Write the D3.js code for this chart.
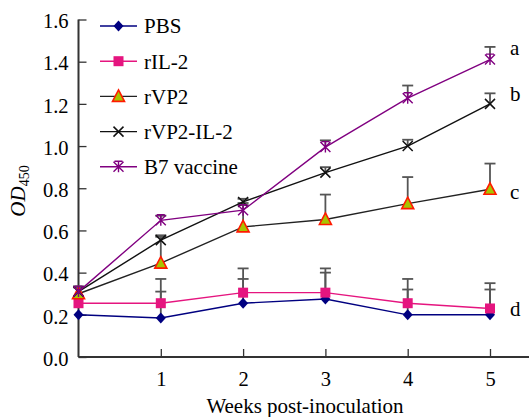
<!DOCTYPE html>
<html>
<head>
<meta charset="utf-8">
<script src="https://cdnjs.cloudflare.com/ajax/libs/d3/7.8.5/d3.min.js"></script>
<style>
  body { margin: 0; background: #fff; }
  svg { display: block; font-family: "Liberation Serif", "Times New Roman", serif; }
</style>
</head>
<body>
<svg width="529" height="417"></svg>
<script>
// weeks post-inoculation
const weeks = [0, 1, 2, 3, 4, 5];

// mean OD450 per group
const pbs     = [0.20, 0.185, 0.255, 0.275, 0.20, 0.20];
const ril2    = [0.255, 0.255, 0.305, 0.305, 0.255, 0.23];
const rvp2    = [0.30, 0.445, 0.617, 0.652, 0.727, 0.795];
const rvp2il2 = [0.31, 0.554, 0.735, 0.874, 1.00, 1.20];
const b7      = [0.31, 0.648, 0.696, 0.995, 1.227, 1.41];

// top of error bar per group (null = not visible)
const pbsErr     = [null, 0.31, 0.37, 0.40, 0.32, 0.32];
const ril2Err    = [null, 0.37, 0.42, 0.42, 0.37, 0.35];
const rvp2Err    = [null, 0.57, 0.72, 0.77, 0.853, 0.917];
const rvp2il2Err = [0.335, 0.577, 0.75, 0.90, 1.03, 1.25];
const b7Err      = [0.33, 0.67, 0.73, 1.027, 1.287, 1.47];

const yTicks = [0, 0.2, 0.4, 0.6, 0.8, 1.0, 1.2, 1.4, 1.6];
const xTicks = [1, 2, 3, 4, 5];

// significance letters: label, y value
const letters = [["a", 1.46], ["b", 1.245], ["c", 0.78], ["d", 0.223]];

const series = [
  { name: "PBS", values: pbs, err: pbsErr, color: "#000080", marker: "diamond" },
  { name: "rIL-2", values: ril2, err: ril2Err, color: "#e5157f", marker: "square" },
  { name: "rVP2", values: rvp2, err: rvp2Err, color: "#222", marker: "triangle" },
  { name: "rVP2-IL-2", values: rvp2il2, err: rvp2il2Err, color: "#111", marker: "x" },
  { name: "B7 vaccine", values: b7, err: b7Err, color: "#800080", marker: "star" }
];

const svg = d3.select("svg");

const x = d3.scaleLinear().domain([0, 5]).range([78.5, 490]);
const y = d3.scaleLinear().domain([0, 1.6]).range([357, 19.5]);

// axes
const yAxis = svg.append("g")
  .attr("transform", "translate(" + x(0) + ",0)")
  .call(d3.axisRight(y).tickValues(yTicks).tickSize(8).tickFormat(d3.format(".1f")));
yAxis.select(".domain").remove();
yAxis.selectAll(".tick line").attr("stroke", "#333").attr("stroke-width", 1.3);
yAxis.selectAll(".tick text")
  .attr("x", -10).attr("dy", "0.4em")
  .attr("text-anchor", "end")
  .attr("font-size", 20.5).attr("fill", "#000")
  .attr("font-family", "Liberation Serif, serif");

const xAxis = svg.append("g")
  .attr("transform", "translate(0," + y(0) + ")")
  .call(d3.axisTop(x).tickValues(xTicks).tickSize(8).tickFormat(d3.format("d")));
xAxis.select(".domain").remove();
xAxis.selectAll(".tick line").attr("stroke", "#333").attr("stroke-width", 1.3);
xAxis.selectAll(".tick text")
  .attr("y", 29).attr("dy", 0)
  .attr("font-size", 20.5).attr("fill", "#000")
  .attr("font-family", "Liberation Serif, serif");

// axis lines
svg.append("line")
  .attr("x1", x(0)).attr("x2", x(0)).attr("y1", y(1.6)).attr("y2", y(0))
  .attr("stroke", "#333").attr("stroke-width", 2);
svg.append("line")
  .attr("x1", x(0)).attr("x2", 529).attr("y1", y(0)).attr("y2", y(0))
  .attr("stroke", "#333").attr("stroke-width", 2.2);

// error bars
series.forEach(s => {
  s.values.forEach((v, i) => {
    const top = s.err[i];
    if (top == null) return;
    const g = svg.append("g").attr("stroke", "#555").attr("stroke-width", 1.8);
    g.append("line").attr("x1", x(weeks[i])).attr("x2", x(weeks[i]))
      .attr("y1", y(v)).attr("y2", y(top));
    g.append("line").attr("x1", x(weeks[i]) - 5.5).attr("x2", x(weeks[i]) + 5.5)
      .attr("y1", y(top)).attr("y2", y(top));
  });
});

// marker drawing
function drawMarker(g, type, color) {
  if (type === "diamond") {
    g.append("path").attr("d", "M0,-5.5L5,0L0,5.5L-5,0Z").attr("fill", color);
  } else if (type === "square") {
    g.append("rect").attr("x", -5).attr("y", -5).attr("width", 10).attr("height", 10).attr("fill", color);
  } else if (type === "triangle") {
    g.append("path").attr("d", "M0,-6.5L6,5L-6,5Z")
      .attr("fill", "#a8c400").attr("stroke", "#ff1a00").attr("stroke-width", 1.6);
  } else if (type === "x") {
    g.append("path").attr("d", "M-5,-5L5,5M-5,5L5,-5").attr("stroke", color).attr("stroke-width", 1.5);
  } else if (type === "star") {
    g.append("path").attr("d", "M-5,-5L5,5M-5,5L5,-5M0,-5.5L0,5.5M-4,-5.5L4,-5.5")
      .attr("stroke", color).attr("stroke-width", 1.4);
  }
}

const line = d3.line().x((d, i) => x(weeks[i])).y(d => y(d));

series.forEach(s => {
  svg.append("path").datum(s.values)
    .attr("d", line)
    .attr("fill", "none")
    .attr("stroke", s.color)
    .attr("stroke-width", 1.4);
  s.values.forEach((v, i) => {
    drawMarker(svg.append("g").attr("transform", "translate(" + x(weeks[i]) + "," + y(v) + ")"), s.marker, s.color);
  });
});

// legend
const legend = svg.append("g").attr("transform", "translate(100,26)");
series.forEach((s, i) => {
  const g = legend.append("g").attr("transform", "translate(0," + (i * 35.2) + ")");
  g.append("line").attr("x1", 0).attr("x2", 37).attr("stroke", s.color).attr("stroke-width", 1.4);
  drawMarker(g.append("g").attr("transform", "translate(18.5,0)"), s.marker, s.color);
  g.append("text").attr("x", 44).attr("dy", "0.35em")
    .attr("font-size", 21).text(s.name);
});

// letters
svg.selectAll(".letter").data(letters).enter().append("text")
  .attr("class", "letter")
  .attr("x", 510)
  .attr("y", d => y(d[1]))
  .attr("dy", "0.3em")
  .attr("font-size", 21)
  .text(d => d[0]);

// axis titles
svg.append("text")
  .attr("x", 305).attr("y", 413)
  .attr("text-anchor", "middle").attr("font-size", 21)
  .text("Weeks post-inoculation");

const yl = svg.append("text")
  .attr("transform", "translate(25,191) rotate(-90)")
  .attr("text-anchor", "middle").attr("font-size", 21);
yl.append("tspan").attr("font-style", "italic").text("OD");
yl.append("tspan").attr("font-size", 14).attr("dy", 4).text("450");
</script>
</body>
</html>
